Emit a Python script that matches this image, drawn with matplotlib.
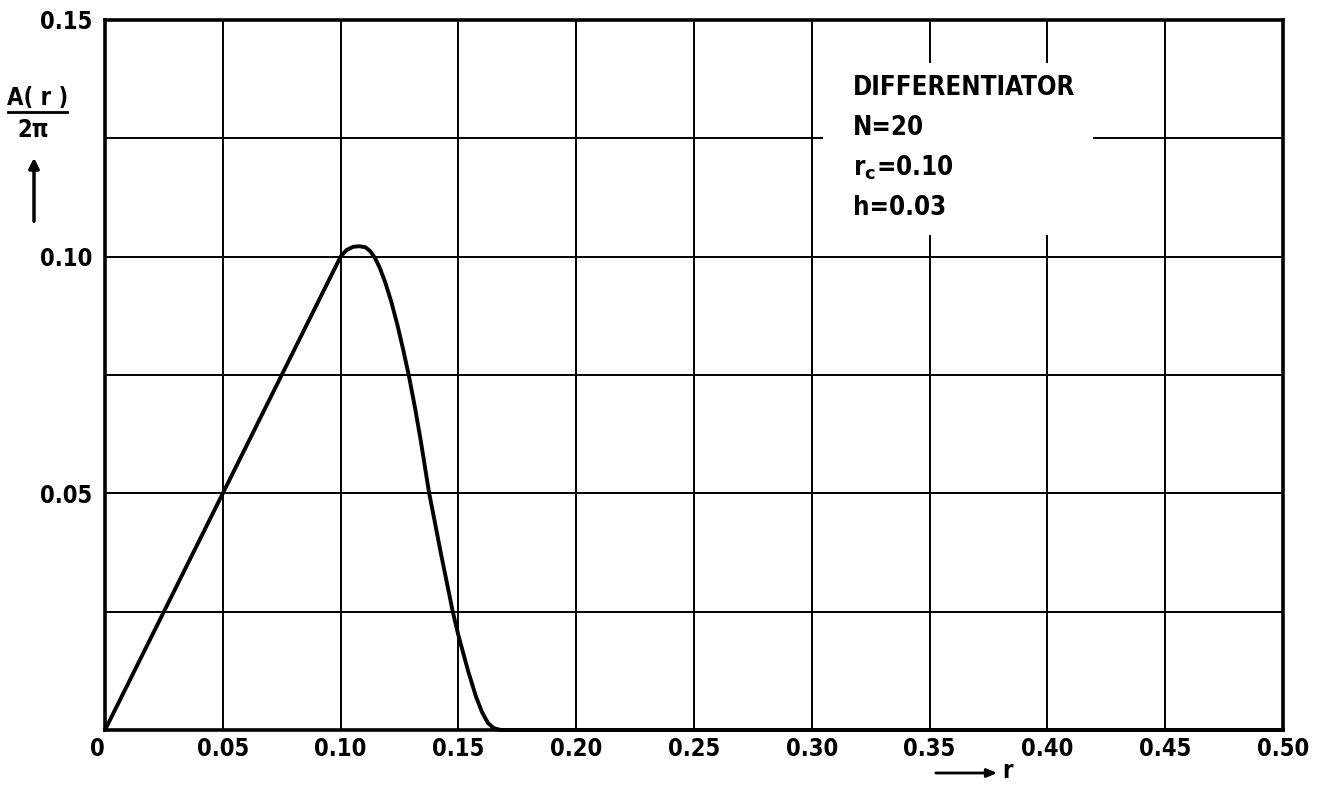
import numpy as np
import matplotlib
matplotlib.use("Agg")
import matplotlib.pyplot as plt
import matplotlib.transforms as mtrans
from matplotlib.patches import Rectangle, FancyArrowPatch

# curve: A(r)/2pi versus r
r = [0.0, 0.05, 0.095, 0.100, 0.1025, 0.1054, 0.108, 0.1105, 0.1125,
     0.1145, 0.1165, 0.1190, 0.1215, 0.1240, 0.1265, 0.1290, 0.1315,
     0.1340, 0.1375, 0.1425, 0.1476, 0.150, 0.1541, 0.1575, 0.1600,
     0.1625, 0.1650, 0.168, 0.50]
a = [0.0, 0.05, 0.095, 0.100, 0.1014, 0.1021, 0.1022, 0.1020, 0.1012,
     0.0998, 0.0978, 0.0945, 0.0905, 0.0858, 0.0805, 0.0748, 0.0683,
     0.0612, 0.0503, 0.0375, 0.025, 0.0200, 0.0125, 0.0070, 0.0038,
     0.0015, 0.0004, 0.0, 0.0]

x_ticks = [0, 0.05, 0.10, 0.15, 0.20, 0.25, 0.30, 0.35, 0.40, 0.45, 0.50]
x_labels = ["0", "0.05", "0.10", "0.15", "0.20", "0.25", "0.30", "0.35", "0.40", "0.45", "0.50"]
y_ticks = [0, 0.025, 0.05, 0.075, 0.10, 0.125, 0.15]
y_labels = ["", "", "0.05", "", "0.10", "", "0.15"]

info_lines = ["DIFFERENTIATOR", "N=20", r"r$_\mathbf{c}$=0.10", "h=0.03"]

W, H = 1324, 787
fig = plt.figure(figsize=(W / 100, H / 100), dpi=100)
ax = fig.add_axes([105 / W, 1 - 730 / H, (1283 - 105) / W, (730 - 20) / H])

font = dict(family="DejaVu Sans", weight="bold", stretch="condensed")

ax.set_xlim(0, 0.5)
ax.set_ylim(0, 0.15)
ax.set_xticks(x_ticks)
ax.set_xticklabels(x_labels, fontsize=17, **font)
ax.set_yticks(y_ticks)
ax.set_yticklabels(y_labels, fontsize=17, **font)
ax.tick_params(length=0, pad=5)
ax.tick_params(axis="y", pad=9)
ax.grid(True, color="black", lw=1.4)
ax.set_axisbelow(True)
for s in ax.spines.values():
    s.set_linewidth(2.6)

# first x label sits a bit left of the axis in the original
lab0 = ax.get_xticklabels()[0]
lab0.set_transform(lab0.get_transform() + mtrans.ScaledTranslation(-0.08, 0, fig.dpi_scale_trans))

# white patch behind the annotation block
ax.add_patch(Rectangle((0.3048, 0.1046), 0.1146, 0.0363, facecolor="white",
                       edgecolor="none", zorder=1.5))

ax.plot(r, a, color="black", lw=2.8, solid_capstyle="round",
        solid_joinstyle="round", zorder=3, clip_on=False)

for i, t in enumerate(info_lines):
    fig.text(853 / W, 1 - (88 + i * 40) / H, t, fontsize=18.5, va="center",
             ha="left", **font)

# y axis label: A(r) over 2pi with an arrow
fig.text(38 / W, 1 - 98 / H, "A( r )", fontsize=17, ha="center", va="center", **font)
fig.add_artist(plt.Line2D([8 / W, 67 / W], [1 - 112 / H, 1 - 112 / H],
                          color="black", lw=2, transform=fig.transFigure))
fig.text(33 / W, 1 - 130 / H, "2π", fontsize=17, ha="center", va="center", **font)
fig.add_artist(FancyArrowPatch(
    (34 / W, 1 - 224 / H), (34 / W, 1 - 155 / H), transform=fig.transFigure,
    arrowstyle="-|>,head_length=6,head_width=3", color="black", lw=2.5))

# x axis label: arrow then r
fig.add_artist(FancyArrowPatch(
    (933 / W, 1 - 773 / H), (1000 / W, 1 - 773 / H), transform=fig.transFigure,
    arrowstyle="-|>,head_length=6,head_width=2.5", color="black", lw=2))
fig.text(1002 / W, 1 - 771 / H, "r", fontsize=17, ha="left", va="center", **font)

fig.savefig("out.png", dpi=100, facecolor="white")
